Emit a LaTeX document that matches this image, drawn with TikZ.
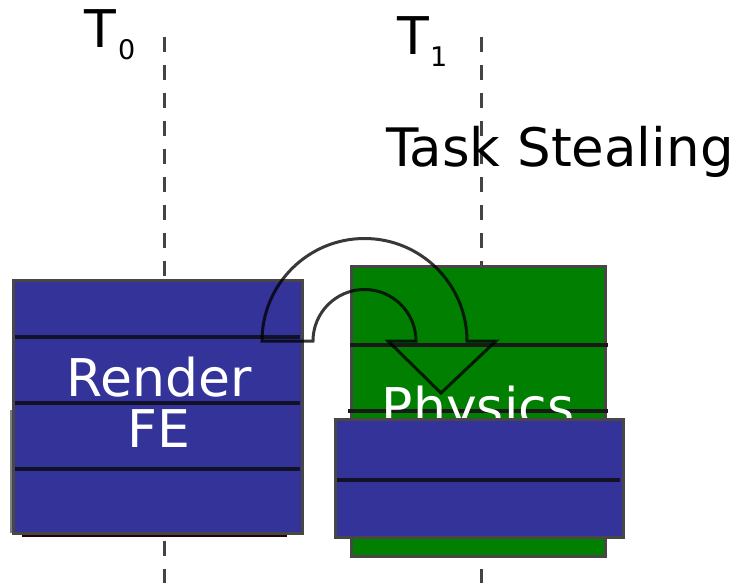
\documentclass[tikz,border=0pt]{standalone}
\usepackage{fontspec}
\setmainfont{DejaVu Sans}
\definecolor{taskblue}{RGB}{51,51,153}
\definecolor{taskgreen}{RGB}{0,127,0}
\definecolor{sepdark}{RGB}{17,17,40}
\definecolor{dashgray}{RGB}{68,68,68}
\begin{document}
\begin{tikzpicture}[x=1pt,y=1pt,
  bigtext/.style={font=\fontsize{52}{52}\selectfont, inner sep=0pt},
  subtext/.style={font=\fontsize{27}{27}\selectfont, inner sep=0pt},
  timeline/.style={draw=dashgray, line width=3pt, dash pattern=on 15pt off 13pt},
  taskbox/.style={draw=black!72, line width=3pt},
  sepline/.style={draw=sepdark, line width=4.5pt},
  stealarrow/.style={draw=black, draw opacity=0.78, line width=3pt, line join=miter}]
\useasboundingbox (0,0) rectangle (739,-583);
% time lines
\coordinate (l0top) at (164,-37);
\coordinate (l0bot) at (164,-590);
\coordinate (l1top) at (481,-37);
\coordinate (l1bot) at (481,-590);
\draw[timeline] (l0top) -- (l0bot);
\draw[timeline] (l1top) -- (l1bot);
% labels
\node[bigtext, anchor=base west] (t0) at (84,-48) {T};
\node[subtext, anchor=base west] (t0s) at (118,-60) {0};
\node[bigtext, anchor=base west] (t1) at (397,-55) {T};
\node[subtext, anchor=base west] (t1s) at (430,-67) {1};
\node[bigtext, font=\fontsize{53}{53}\selectfont, anchor=base west] (steal) at (386,-167) {Task Stealing};
% left stack (shadow edges)
\draw[draw=gray, line width=2pt] (11,-410) -- (11,-533);
\draw[draw=black!60!red!40!black, line width=2pt] (22,-535.5) -- (287,-535.5);
% left box
\node[taskbox, fill=taskblue, rectangle, inner sep=0pt, minimum width=289pt, minimum height=253pt] (renderbox) at (157.5,-406.5) {};
\draw[sepline] (15,-337) -- (300,-337);
\draw[sepline] (15,-403) -- (300,-403);
\draw[sepline] (15,-469) -- (300,-469);
\node[bigtext, text=white, anchor=base] (render) at (159,-396) {Render};
\node[bigtext, text=white, anchor=base] (fe) at (159,-447) {FE};
% green box
\node[taskbox, fill=taskgreen, rectangle, inner sep=0pt, minimum width=254pt, minimum height=290pt] (physbox) at (478,-411) {};
\draw[sepline, draw=black!90] (350,-345) -- (608,-345);
\draw[sepline, draw=black!90] (348,-411) -- (608,-411);
\node[bigtext, text=white, anchor=base] (physics) at (478,-425) {Physics};
% lower blue box
\node[taskbox, fill=taskblue, rectangle, inner sep=0pt, minimum width=288pt, minimum height=118pt] (lowbox) at (479,-478) {};
\draw[sepline] (337,-480) -- (620,-480);
% U-turn arrow
\draw[stealarrow] (262,-341) -- (313,-341)
  arc[start angle=180, end angle=0, radius=51.5]
  -- (388,-341) -- (441,-393) -- (496,-341) -- (467,-341)
  arc[start angle=0, end angle=180, radius=102.5] -- cycle;
\end{tikzpicture}
\end{document}
